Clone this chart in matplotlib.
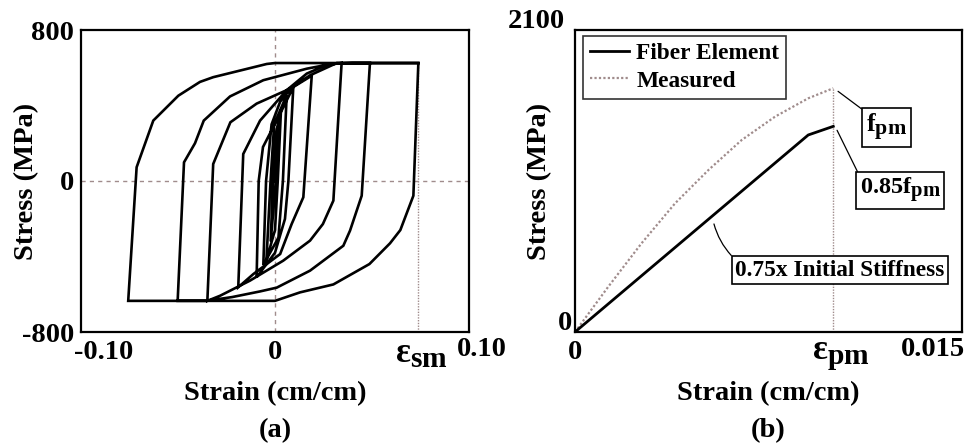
import matplotlib
matplotlib.use("Agg")
import matplotlib.pyplot as plt
import matplotlib.transforms as mtrans
import matplotlib._mathtext as _mt

_mt.SHRINK_FACTOR = 0.85  # larger subscripts, like the reference

plt.rcParams['font.family'] = ['Liberation Serif', 'DejaVu Serif']
plt.rcParams['font.weight'] = 'bold'
plt.rcParams['mathtext.fontset'] = 'custom'
plt.rcParams['mathtext.rm'] = 'Liberation Serif:bold'
plt.rcParams['mathtext.bf'] = 'Liberation Serif:bold'
plt.rcParams['mathtext.it'] = 'Liberation Serif:bold:italic'

# ---------------- data: panel (a) hysteresis path ----------------
hyst_strain = [
    0.0, 0.002,                                    # initial load
    0.0005, -0.0025,                               # small cycles
    -0.0012, 0.0005, 0.0035,
    0.0016, 0.0, -0.005,
    -0.0026, -0.0005, 0.0068,
    0.0046, 0.002, -0.0068,
    -0.0052, -0.002, 0.003, 0.0107,                # to +0.0107
    0.0078, 0.0058, 0.0, -0.0107,                  # to -0.0107
    -0.0095, -0.007, 0.003, 0.0107, 0.0214,        # to +0.0214
    0.0165, 0.0097, 0.003, -0.0126, -0.0214,       # to -0.0214
    -0.0185, -0.0087, 0.0068, 0.0185, 0.030, 0.0388,
    0.034, 0.0279, 0.0204, 0.0048, -0.0146, -0.032, -0.0394,
    -0.036, -0.026, -0.0107, 0.0087, 0.0204, 0.036, 0.0553,
    0.0505, 0.0437, 0.0398, 0.0204, 0.001, -0.0087, -0.025, -0.040, -0.0567,
    -0.053, -0.0466, -0.0415, -0.0262, -0.0068, 0.0185, 0.034, 0.045, 0.0835,
    0.0806, 0.073, 0.067, 0.055, 0.034, 0.0146, 0.0, -0.0855,
    -0.0806, -0.0709, -0.0563, -0.0437, -0.036, -0.0048, 0.0, 0.0835,
]
hyst_stress = [
    0, 300,
    0, -320,
    0, 250, 380,
    0, -260, -420,
    0, 300, 455,
    0, -300, -445,
    0, 300, 420, 505,
    0, -201, -380, -510,
    0, 180, 357, 498, 558,
    -86, -228, -387, -493, -563,
    143, 320, 481, 569, 615, 625,
    -104, -228, -316, -422, -528, -608, -635,
    90, 311, 410, 489, 560, 625, 625,
    -78, -263, -343, -475, -565, -585, -615, -635, -635,
    99, 200, 320, 448, 534, 595, 622, 625, 625,
    -78, -260, -330, -440, -548, -590, -635, -635,
    73, 320, 452, 525, 550, 620, 625, 625,
]
eps_sm = 0.0835
a_xticks = [-0.10, 0.0]
a_xticklabels = ['-0.10', '0']
a_yticks = [-800, 0, 800]
a_yticklabels = ['-800', '0', '800']

# ---------------- data: panel (b) monotonic curves ----------------
meas_strain = [0, 0.00129, 0.00258, 0.00388, 0.00517, 0.00646, 0.00775, 0.00904, 0.01001]
meas_stress = [0, 315, 617, 895, 1126, 1335, 1497, 1625, 1695]
fiber_strain = [0, 0.00904, 0.01001]
fiber_stress = [0, 1370, 1430]
eps_pm = 0.01001
b_xticks = [0.0]
b_xticklabels = ['0']

DOT = '#a08c8c'
FS = 20.5
SFS = 16.8
PX = 1 / 100.0  # one pixel in inches

fig = plt.figure(figsize=(9.71, 4.47), dpi=100)
axA = fig.add_axes([81/971, 1-332/447, 388/971, 302/447])
axB = fig.add_axes([575/971, 1-332/447, 387/971, 302/447])


def offset_text(ax, x, y, s, dx, dy, coords='xaxis', **kw):
    """text at data x (blended with axes y) shifted by dx, dy pixels"""
    if coords == 'xaxis':
        base = mtrans.blended_transform_factory(ax.transData, ax.transAxes)
    else:
        base = mtrans.blended_transform_factory(ax.transAxes, ax.transData)
    tr = base + mtrans.ScaledTranslation(dx * PX, dy * PX, fig.dpi_scale_trans)
    return ax.text(x, y, s, transform=tr, clip_on=False, fontweight='bold', **kw)


# ---- panel (a)
axA.axhline(0, color=DOT, ls=(0, (3, 3)), lw=1.0, zorder=1)
axA.axvline(0, color=DOT, ls=(0, (3, 3)), lw=1.0, zorder=1)
axA.plot([eps_sm, eps_sm], [-800, 625], color=DOT, ls=(0, (1, 1)), lw=1.0, zorder=1)
axA.plot(hyst_strain, hyst_stress, color='black', lw=1.9, zorder=3, solid_joinstyle='miter')
axA.set_xlim(-0.113, 0.113)
axA.set_ylim(-800, 800)
axA.set_xticks(a_xticks)
axA.set_xticklabels(a_xticklabels)
axA.set_yticks(a_yticks)
axA.set_yticklabels(a_yticklabels)
axA.set_xlabel('Strain (cm/cm)', fontsize=FS, fontweight='bold', labelpad=11)
axA.set_ylabel('Stress (MPa)', fontsize=FS, fontweight='bold')
axA.yaxis.set_label_coords((39 - 81) / 388, 0.5)
offset_text(axA, 0.10, 0, '0.10', 35, -18, ha='center', va='center', fontsize=FS)
offset_text(axA, eps_sm, 0, r'ε$_{\mathbf{sm}}$', 3, -22, ha='center', va='center', fontsize=25)
fig.text(275/971, 1-431/447, '(a)', ha='center', va='center', fontsize=FS, fontweight='bold')

# ---- panel (b)
axB.plot([eps_pm, eps_pm], [0, meas_stress[-1]], color=DOT, ls=(0, (1, 1)), lw=1.0, zorder=1)
axB.plot(fiber_strain, fiber_stress, color='black', lw=2.0, label='Fiber Element', zorder=3)
axB.plot(meas_strain, meas_stress, color=DOT, lw=1.6, ls=(0, (1, 1)), label='Measured', zorder=2)
axB.set_xlim(0, 0.015)
axB.set_ylim(0, 2100)
axB.set_xticks(b_xticks)
axB.set_xticklabels(b_xticklabels)
axB.set_yticks([])
axB.set_xlabel('Strain (cm/cm)', fontsize=FS, fontweight='bold', labelpad=11)
axB.set_ylabel('Stress (MPa)', fontsize=FS, fontweight='bold')
axB.yaxis.set_label_coords((552 - 575) / 387, 0.5)
offset_text(axB, 0.015, 0, '0.015', -29, -18, ha='center', va='center', fontsize=FS)
offset_text(axB, eps_pm, 0, r'ε$_{\mathbf{pm}}$', 8, -24, ha='center', va='center', fontsize=25)
offset_text(axB, 0, 2100, '2100', -10, 8, coords='yaxis', ha='right', va='center', fontsize=FS)
offset_text(axB, 0, 0, '0', -3, 9, coords='yaxis', ha='right', va='center', fontsize=FS)
fig.text(768/971, 1-431/447, '(b)', ha='center', va='center', fontsize=FS, fontweight='bold')

leg = axB.legend(loc='upper left', bbox_to_anchor=(0.02, 0.98), frameon=True,
                 fancybox=False, handlelength=1.7, handletextpad=0.3, borderpad=0.3,
                 labelspacing=0.25, borderaxespad=0.0, prop={'weight': 'bold', 'size': SFS})
leg.get_frame().set_edgecolor('black')
leg.get_frame().set_linewidth(1.2)

bbox = dict(boxstyle='square,pad=0.15', fc='white', ec='black', lw=1.2)
axB.annotate(r'f$_{\mathbf{pm}}$', xy=(eps_pm + 0.0001, meas_stress[-1] - 10), xytext=(0.01207, 1420),
             fontsize=18.5, fontweight='bold', ha='center', va='center', bbox=bbox,
             arrowprops=dict(arrowstyle='-', color='black', lw=0.9, relpos=(0, 1), shrinkA=0, shrinkB=2))
axB.annotate(r'0.85f$_{\mathbf{pm}}$', xy=(eps_pm + 0.0001, fiber_stress[-1] - 10), xytext=(0.0126, 985),
             fontsize=17.5, fontweight='bold', ha='center', va='center', bbox=bbox,
             arrowprops=dict(arrowstyle='-', color='black', lw=0.9, relpos=(0, 1), shrinkA=0, shrinkB=2))
axB.annotate('0.75x Initial Stiffness', xy=(0.00536, 770), xytext=(0.01027, 431),
             fontsize=SFS, fontweight='bold', ha='center', va='center', bbox=bbox,
             arrowprops=dict(arrowstyle='-', color='black', lw=0.9, relpos=(0, 1), shrinkA=0, shrinkB=2,
                             connectionstyle='arc3,rad=-0.15'))

for ax in (axA, axB):
    for s in ax.spines.values():
        s.set_linewidth(1.6)
    ax.tick_params(length=0, labelsize=FS)
    ax.tick_params(axis='x', pad=6)
    ax.tick_params(axis='y', pad=5)
    for t in ax.get_xticklabels() + ax.get_yticklabels():
        t.set_fontweight('bold')

fig.savefig('out.png', dpi=100)
